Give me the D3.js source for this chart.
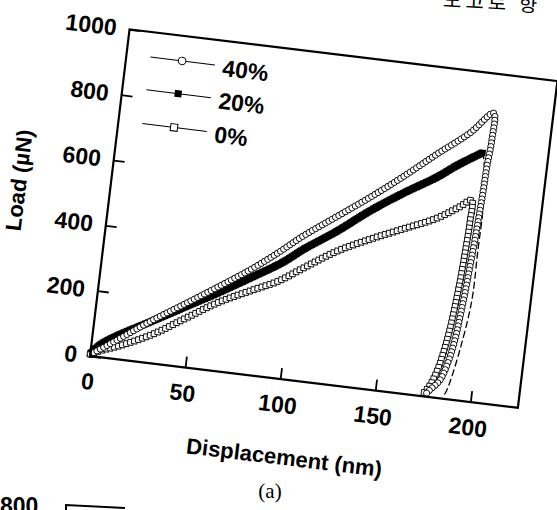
<!DOCTYPE html>
<html><head><meta charset="utf-8">
<script src="https://cdn.jsdelivr.net/npm/d3@7"></script>
<style>
html,body{margin:0;padding:0;background:#fff;}
svg{display:block;}
text{font-family:"Liberation Sans",Arial,sans-serif;}
</style></head>
<body>
<svg id="chart" width="557" height="510"></svg>
<script>
// ---- data ----
const xTicks = [0, 50, 100, 150, 200];
const yTicks = [0, 200, 400, 600, 800, 1000];
const seriesNames = ["40%", "20%", "0%"];

const disp40Load = [0, 5, 13, 30, 46, 62, 78, 91, 103, 119, 135, 151, 167, 183, 194];
const load40Load = [5, 25, 58, 130, 192, 255, 320, 380, 440, 510, 580, 655, 735, 812, 880];
const disp40Unload = [194, 194.7, 193.8, 193.4, 192.8, 192.2, 191.3, 190.4, 189.3, 188.1, 185.9, 182.9, 178.3, 176];
const load40Unload = [880, 798, 714, 635, 561, 490, 407, 327, 252, 181, 110, 55, 22, 5];

const disp20Load = [0, 5, 13, 30, 46, 62, 79, 94, 104, 120, 136, 152, 169, 178, 191];
const load20Load = [8, 40, 72, 128, 182, 236, 297, 353, 400, 466, 540, 605, 668, 708, 758];
const disp20Unload = [191, 193.5, 194.5, 194.4, 194.4, 191.3, 187.1, 185.4];
const load20Unload = [758, 680, 583, 461, 308, 153, 28, 5];

const disp0Load = [0, 5, 14, 31, 47, 63, 80, 93, 105, 121, 138, 154, 171, 182, 188];
const load0Load = [5, 20, 40, 88, 148, 208, 258, 295, 343, 405, 455, 497, 542, 584, 609];
const disp0Unload = [188, 188.5, 188, 187.3, 186.3, 185, 183.3, 181, 178, 175];
const load0Unload = [609, 540, 460, 380, 300, 220, 150, 85, 35, 8];

// ---- layout ----
const svg = d3.select("#chart");
const ox = 90, oy = 356, W = 431, H = 329, angle = 6.9;
const x = d3.scaleLinear().domain([0, 225]).range([0, W]);
const y = d3.scaleLinear().domain([0, 1000]).range([0, -H]);

const g = svg.append("g").attr("transform", `translate(${ox},${oy}) rotate(${angle})`);

const zip = (a, b) => a.map((v, i) => [v, b[i]]);
const line = d3.line().x(d => x(d[0])).y(d => y(d[1])).curve(d3.curveCatmullRom.alpha(0.5));

function sample(path, step) {
  const L = path.getTotalLength(), pts = [];
  for (let s = 0; s <= L; s += step) pts.push(path.getPointAtLength(s));
  return pts;
}

const plot = g.append("g");

// 20% : filled squares (loading), thin dashed unloading
{
  const p = plot.append("path").datum(zip(disp20Load, load20Load))
    .attr("d", line).attr("fill", "none").attr("stroke", "#000").attr("stroke-width", 1);
  plot.selectAll(null).data(sample(p.node(), 1.6)).join("rect")
    .attr("x", d => d.x - 3.2).attr("y", d => d.y - 3.2)
    .attr("width", 6.4).attr("height", 6.4).attr("fill", "#000");
  plot.append("path").datum(zip(disp20Unload, load20Unload))
    .attr("d", line).attr("fill", "none").attr("stroke", "#000")
    .attr("stroke-width", 1.3).attr("stroke-dasharray", "7,3");
}
// 0% : open squares
{
  const data = zip(disp0Load, load0Load).concat(zip(disp0Unload, load0Unload).slice(1));
  const p = plot.append("path").datum(data)
    .attr("d", line).attr("fill", "none").attr("stroke", "#000").attr("stroke-width", 1);
  plot.selectAll(null).data(sample(p.node(), 4.2)).join("rect")
    .attr("x", d => d.x - 2.8).attr("y", d => d.y - 2.8)
    .attr("width", 5.6).attr("height", 5.6)
    .attr("fill", "#fff").attr("stroke", "#000").attr("stroke-width", 0.9);
}
// 40% : open circles
{
  const data = zip(disp40Load, load40Load).concat(zip(disp40Unload, load40Unload).slice(1));
  const p = plot.append("path").datum(data)
    .attr("d", line).attr("fill", "none").attr("stroke", "#000").attr("stroke-width", 1);
  plot.selectAll(null).data(sample(p.node(), 3.8)).join("circle")
    .attr("cx", d => d.x).attr("cy", d => d.y).attr("r", 3.1)
    .attr("fill", "#fff").attr("stroke", "#000").attr("stroke-width", 0.9);
}

// frame
g.append("rect").attr("x", 0).attr("y", -H).attr("width", W).attr("height", H)
  .attr("fill", "none").attr("stroke", "#000").attr("stroke-width", 2.2);

// axes
const xAxis = g.append("g")
  .call(d3.axisBottom(x).tickValues(xTicks).tickFormat(d3.format("d"))
    .tickSizeInner(-11).tickSizeOuter(0).tickPadding(17));
const yAxis = g.append("g")
  .call(d3.axisLeft(y).tickValues(yTicks).tickFormat(d3.format("d"))
    .tickSizeInner(-11).tickSizeOuter(0).tickPadding(13));
[xAxis, yAxis].forEach(a => {
  a.select(".domain").remove();
  a.selectAll(".tick line").attr("stroke", "#000").attr("stroke-width", 1.8);
  a.selectAll(".tick text").attr("fill", "#000")
    .style("font-family", "'Liberation Sans',Arial,sans-serif")
    .style("font-weight", "bold").style("font-size", "23px");
});

// axis titles
g.append("text").attr("x", 205).attr("y", 85).attr("text-anchor", "middle")
  .style("font-weight", "bold").style("font-size", "22px").text("Displacement (nm)");
g.append("text").attr("transform", "translate(-84,-166) rotate(-90)").attr("text-anchor", "middle")
  .style("font-weight", "bold").style("font-size", "22px").text("Load (µN)");

// legend
const legRows = [-304, -271, -237];
const leg = g.append("g");
seriesNames.forEach((name, i) => {
  const ly = legRows[i];
  leg.append("line").attr("x1", 24).attr("x2", 89).attr("y1", ly).attr("y2", ly)
    .attr("stroke", "#000").attr("stroke-width", 1);
  if (i === 0) {
    leg.append("circle").attr("cx", 56).attr("cy", ly).attr("r", 3.8)
      .attr("fill", "#fff").attr("stroke", "#000").attr("stroke-width", 1);
  } else if (i === 1) {
    leg.append("rect").attr("x", 52.5).attr("y", ly - 3.5).attr("width", 7).attr("height", 7).attr("fill", "#000");
  } else {
    leg.append("rect").attr("x", 52.5).attr("y", ly - 3.5).attr("width", 7).attr("height", 7)
      .attr("fill", "#fff").attr("stroke", "#000").attr("stroke-width", 1);
  }
  leg.append("text").attr("x", 97).attr("y", ly + 10)
    .style("font-weight", "bold").style("font-size", "23px").text(name);
});

// caption and fragments of the scanned page
svg.append("text").attr("x", 270).attr("y", 498).attr("text-anchor", "middle")
  .style("font-family", "'Liberation Serif','Times New Roman',serif").style("font-size", "21px").text("(a)");
svg.append("text").attr("x", 0).attr("y", 514)
  .style("font-weight", "bold").style("font-size", "23px").text("800");
svg.append("path").attr("d", "M66,512 L66,505 L125,508").attr("fill", "none")
  .attr("stroke", "#000").attr("stroke-width", 2);
svg.append("text").attr("x", 443).attr("y", 10).attr("transform", "rotate(3,500,5)")
  .style("font-family", "'Noto Sans CJK KR',sans-serif").style("font-size", "20px")
  .style("letter-spacing", "4px").text("도고로 향");
</script>
</body></html>
